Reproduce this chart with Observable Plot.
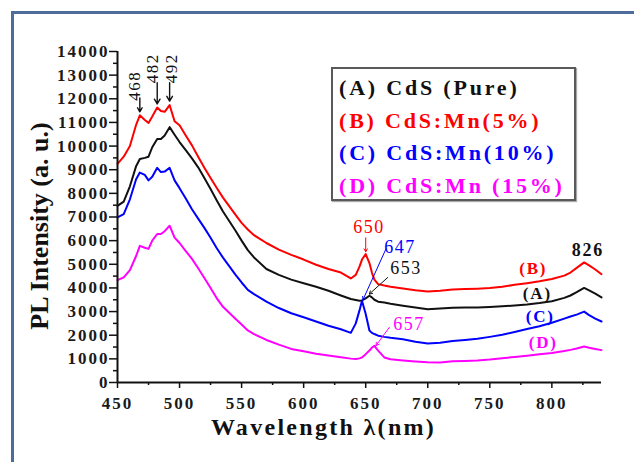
<!DOCTYPE html>
<html>
<head>
<meta charset="utf-8">
<script src="https://cdn.jsdelivr.net/npm/d3@7"></script>
<script src="https://cdn.jsdelivr.net/npm/@observablehq/plot@0.6"></script>
<style>
  html, body { margin: 0; padding: 0; background: #fff; width: 634px; height: 462px; overflow: hidden; }
  #wrap { position: relative; width: 634px; height: 462px; }
  #frame { position: absolute; left: 11px; top: 11px; width: 700px; height: 500px;
           border-left: 3px solid #4d6c9a; border-top: 3px solid #4d6c9a; pointer-events: none; }
  #legend { position: absolute; left: 331px; top: 67px; width: 235px; height: 127px;
            border: 2px solid #5a5a5a; box-shadow: 1px 1px 1px #aaa; padding: 3px 0 0 6px; box-sizing: content-box;
            font-family: "Liberation Serif", "Times New Roman", serif; font-weight: bold; font-size: 22px;
            letter-spacing: 2.8px; line-height: 32.7px; white-space: nowrap; }
  svg text { font-family: "Liberation Serif", "Times New Roman", serif; }
  g[aria-label="y-axis tick label"] text, g[aria-label="x-axis tick label"] text { letter-spacing: 2px; }
  g[aria-description="ls-xlabel"] text { letter-spacing: 2.3px; }
  g[aria-description="ls-peak"] text { letter-spacing: 1.5px; }
  g[aria-description="ls-bold"] text { letter-spacing: 1.8px; }
</style>
</head>
<body>
<div id="wrap">
  <div id="chart"></div>
  <div id="frame"></div>
  <div id="legend"></div>
</div>
<script>
// ---- data ----
const wavelengths = [450,455,460,465,468,472,475,478,482,485,488,492,496,500,505,510,515,520,525,530,535,540,545,550,555,560,570,580,590,600,610,620,630,638,642,645,647,650,653,655,657,660,665,670,680,690,700,710,720,730,740,750,760,770,780,790,800,810,815,820,826,830,835,840];

const intensityA = [7470,7650,8300,9150,9450,9500,9550,9950,10300,10300,10450,10800,10480,10170,9830,9480,9100,8650,8180,7700,7230,6830,6430,6000,5600,5290,4800,4550,4350,4200,4050,3880,3680,3530,3490,3460,3470,3560,3670,3600,3500,3420,3380,3330,3250,3170,3100,3130,3160,3170,3170,3190,3220,3260,3300,3360,3440,3580,3680,3820,4000,3900,3760,3600];

const intensityB = [9250,9550,10000,10900,11300,11100,10980,11250,11630,11480,11450,11730,11050,10880,10450,10030,9550,9080,8650,8230,7820,7460,7100,6750,6470,6230,5900,5620,5400,5200,4980,4800,4650,4400,4550,4900,5200,5430,5050,4650,4350,4160,4100,4050,3980,3900,3850,3880,3930,3950,3970,4000,4050,4130,4200,4280,4380,4520,4650,4850,5080,4950,4780,4580];

const intensityC = [6980,7120,7750,8600,8880,8780,8550,8700,9080,8900,8920,9080,8550,8220,7780,7330,6930,6540,6120,5680,5280,4920,4560,4230,3920,3740,3420,3150,2930,2760,2580,2400,2250,2100,2500,3050,3460,2900,2200,2100,2050,1980,1930,1890,1830,1720,1650,1680,1760,1800,1850,1930,2020,2140,2260,2380,2530,2700,2790,2870,3000,2850,2700,2580];

const intensityD = [4330,4450,4750,5350,5780,5700,5650,6000,6280,6280,6400,6630,6130,5900,5560,5230,4830,4420,4000,3560,3200,2950,2700,2450,2200,2050,1800,1600,1420,1320,1220,1140,1070,1010,990,1020,1060,1200,1350,1480,1550,1350,1060,980,930,890,860,850,900,910,930,970,1030,1080,1130,1190,1250,1330,1380,1440,1520,1470,1420,1370];

const seriesKeys = ["A", "B", "C", "D"];
const seriesColors = ["#111111", "#ff0000", "#0000ff", "#ff00ff"];
const legendLabels = ["(A) CdS (Pure)", "(B) CdS:Mn(5%)", "(C) CdS:Mn(10%)", "(D) CdS:Mn (15%)"];

const xMajorTicks = [450,500,550,600,650,700,750,800];
const xMinorTicks = [475,525,575,625,675,725,775,825];
const yMajorTicks = [0,1000,2000,3000,4000,5000,6000,7000,8000,9000,10000,11000,12000,13000,14000];
const yMinorTicks = [500,1500,2500,3500,4500,5500,6500,7500,8500,9500,10500,11500,12500,13500];

// top peak annotations (468, 482, 492)
const topPeaks = [468, 482, 492];
const topLabelX = [464.1, 478.3, 493.6];
const topLabelY = [12550, 13290, 13290];
const topArrowFrom = [12040, 12680, 12680];
const topArrowTo = [11450, 11780, 11900];

// side peak annotations
const sideLabels = ["650", "647", "653", "657"];
const sideColors = ["#ff0000", "#0000ff", "#111111", "#ff00ff"];
const sideWeights = ["bold", "normal", "normal", "normal"];
const sideLabelX = [652.6, 677.7, 682.5, 684.9];
const sideLabelY = [6565, 5740, 4830, 2460];
const sideArrowX1 = [650, 666.4, 667.7, 669.0];
const sideArrowY1 = [6120, 5660, 4440, 2330];
const sideArrowX2 = [650, 647.8, 652.9, 658.3];
const sideArrowY2 = [5530, 3500, 3740, 1560];

// curve tags on the right
const tagLabels = ["(B)", "(A)", "(C)", "(D)"];
const tagColors = ["#ff0000", "#111111", "#0000ff", "#ff00ff"];
const tagX = [785, 788.3, 790.7, 793.1];
const tagY = [4810, 3770, 2800, 1700];

const label826 = ["826"];
const label826X = [829.1];
const label826Y = [5610];

const xLabel = "Wavelength λ(nm)";
const yLabel = "PL Intensity (a. u.)";

// ---- build tables ----
const allSeries = [intensityA, intensityB, intensityC, intensityD];
const rows = seriesKeys.flatMap((k, i) => wavelengths.map((w, j) => ({series: k, wavelength: w, intensity: allSeries[i][j]})));
const topAnn = topPeaks.map((p, i) => ({peak: String(p), x: p, lx: topLabelX[i], ly: topLabelY[i], from: topArrowFrom[i], to: topArrowTo[i]}));
const sideAnn = sideLabels.map((t, i) => ({text: t, color: sideColors[i], weight: sideWeights[i], lx: sideLabelX[i], ly: sideLabelY[i], x1: sideArrowX1[i], y1: sideArrowY1[i], x2: sideArrowX2[i], y2: sideArrowY2[i]}));
const tags = tagLabels.map((t, i) => ({text: t, color: tagColors[i], x: tagX[i], y: tagY[i]}));
const fontFam = "Liberation Serif, Times New Roman, serif";

const chart = Plot.plot({
  width: 634,
  height: 462,
  marginLeft: 117,
  marginRight: 33,
  marginTop: 51,
  marginBottom: 80,
  style: {background: "transparent", fontFamily: fontFam, overflow: "visible"},
  x: {domain: [450, 840], axis: null},
  y: {domain: [0, 14000], axis: null},
  color: {domain: seriesKeys, range: seriesColors},
  marks: [
    Plot.line(rows, {x: "wavelength", y: "intensity", z: "series", stroke: "series", strokeWidth: 2}),
    // axes
    Plot.axisY(yMajorTicks, {tickSize: 8, tickPadding: 0, tickFormat: d => String(d), fontSize: 17, fontWeight: "bold", fill: "#1a1a1a", stroke: "#111", strokeWidth: 1.5}),
    Plot.axisY(yMinorTicks, {tickSize: 4, tickFormat: () => "", stroke: "#111", strokeWidth: 1.5}),
    Plot.axisX(xMajorTicks, {tickSize: 6, tickPadding: 8, tickFormat: d => String(d), fontSize: 17, fontWeight: "bold", fill: "#1a1a1a", stroke: "#111", strokeWidth: 1.5}),
    Plot.axisX(xMinorTicks, {tickSize: 3, tickFormat: () => "", stroke: "#111", strokeWidth: 1.5}),
    Plot.ruleX([450], {stroke: "#111", strokeWidth: 2}),
    Plot.ruleY([0], {stroke: "#111", strokeWidth: 2}),
    // axis titles
    Plot.text([yLabel], {text: d => d, frameAnchor: "left", textAnchor: "middle", lineAnchor: "middle", rotate: -90, dx: -78, dy: 9, fontSize: 26, fontWeight: "bold", fill: "#111"}),
    Plot.text([xLabel], {text: d => d, frameAnchor: "bottom", textAnchor: "middle", lineAnchor: "middle", dx: -36, dy: 45, fontSize: 24, fontWeight: "bold", fill: "#111", ariaDescription: "ls-xlabel"}),
    // top peak annotations
    Plot.arrow(topAnn, {x1: "x", x2: "x", y1: "from", y2: "to", stroke: "#111", strokeWidth: 1.4, headLength: 6}),
    Plot.text(topAnn, {x: "lx", y: "ly", text: "peak", rotate: -90, textAnchor: "middle", lineAnchor: "middle", fontSize: 17, fill: "#111", ariaDescription: "ls-peak"}),
    // side peak annotations
    Plot.arrow(sideAnn, {x1: "x1", y1: "y1", x2: "x2", y2: "y2", stroke: d => d.color, strokeWidth: 1, headLength: 5}),
    Plot.text(sideAnn, {x: "lx", y: "ly", text: "text", fill: d => d.color, fontWeight: d => d.weight, textAnchor: "middle", lineAnchor: "middle", fontSize: 18, ariaDescription: "ls-peak"}),
    Plot.text(tags, {x: "x", y: "y", text: "text", fill: d => d.color, textAnchor: "middle", lineAnchor: "middle", fontSize: 17, fontWeight: "bold", ariaDescription: "ls-bold"}),
    Plot.text(label826, {x: () => label826X[0], y: () => label826Y[0], text: d => d, textAnchor: "middle", lineAnchor: "middle", fontSize: 18, fontWeight: "bold", fill: "#111", ariaDescription: "ls-bold"})
  ]
});
document.getElementById("chart").appendChild(chart);

const legend = document.getElementById("legend");
legendLabels.forEach((t, i) => {
  const div = document.createElement("div");
  div.textContent = t;
  div.style.color = seriesColors[i];
  legend.appendChild(div);
});
</script>
</body>
</html>
